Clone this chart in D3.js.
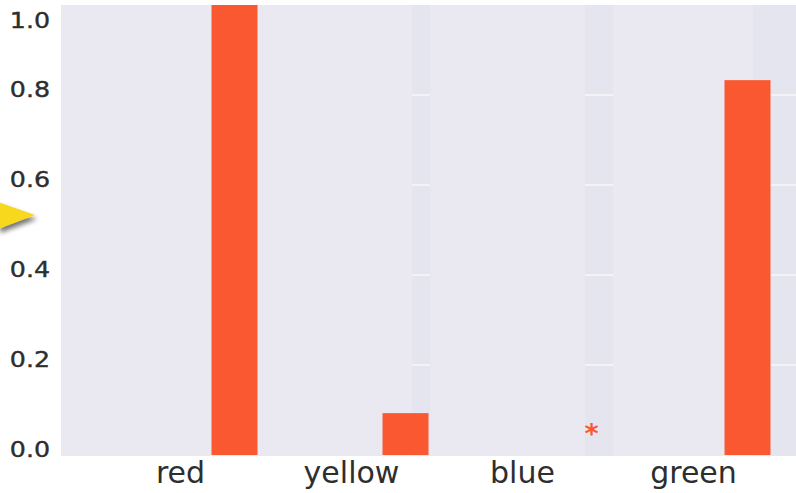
<!DOCTYPE html>
<html>
<head>
<meta charset="utf-8">
<script src="https://cdn.jsdelivr.net/npm/d3@7"></script>
<style>
  html, body { margin: 0; padding: 0; background: #ffffff; }
  svg { display: block; }
</style>
</head>
<body>
<svg id="chart" width="796" height="493"></svg>
<script>
// Categories and their values
const categories = ["red", "yellow", "blue", "green"];
const values = [1.0, 0.093, 0.0, 0.833];
const yTicks = [0.0, 0.2, 0.4, 0.6, 0.8, 1.0];
const markers = ["", "", "*", ""];

const plot = { left: 61, right: 796, top: 5, bottom: 456 };

const svg = d3.select("#chart");

const x = d3.scaleBand().domain(categories).range([95, 779]);
const y = d3.scaleLinear().domain([0, 1]).range([455, 5]);

const barColor = "#f95830";
const textColor = "#2e2e2e";

// Shadow for the pointer
const defs = svg.append("defs");
const f = defs.append("filter").attr("id", "shadow").attr("x", "-50%").attr("y", "-50%").attr("width", "200%").attr("height", "200%");
f.append("feGaussianBlur").attr("in", "SourceAlpha").attr("stdDeviation", 2.5);
f.append("feOffset").attr("dx", 2).attr("dy", 4).attr("result", "b");
f.append("feComponentTransfer").append("feFuncA").attr("type", "linear").attr("slope", 0.55);
const m = f.append("feMerge");
m.append("feMergeNode");
m.append("feMergeNode").attr("in", "SourceGraphic");

// Plot background
svg.append("rect")
  .attr("x", plot.left).attr("y", plot.top)
  .attr("width", plot.right - plot.left).attr("height", plot.bottom - plot.top)
  .attr("fill", "#eae9f2");

// Slightly darker panel strips with their own grid lines
const strips = [[412, 430], [585, 613], [753, 796]];
const stripG = svg.append("g");
strips.forEach(([a, b]) => {
  stripG.append("rect")
    .attr("x", a).attr("y", plot.top)
    .attr("width", b - a).attr("height", plot.bottom - plot.top)
    .attr("fill", "#e5e5ef");
  yTicks.filter(t => t > 0 && t < 1).forEach(t => {
    stripG.append("line")
      .attr("x1", a).attr("x2", b)
      .attr("y1", y(t)).attr("y2", y(t))
      .attr("stroke", "#f2f2f7").attr("stroke-width", 2);
  });
});

// Bars
const barOffset = 31, barWidth = 46;
svg.append("g").selectAll("rect")
  .data(categories)
  .join("rect")
  .attr("x", (d) => x(d) + x.bandwidth() / 2 + barOffset)
  .attr("y", (d, i) => y(values[i]))
  .attr("width", barWidth)
  .attr("height", (d, i) => y(0) - y(values[i]))
  .attr("fill", barColor);

// Significance markers
svg.append("g").selectAll("text")
  .data(categories)
  .join("text")
  .attr("x", (d) => x(d) + x.bandwidth() / 2 + 69)
  .attr("y", y(0) - 12)
  .attr("text-anchor", "middle")
  .attr("font-family", "DejaVu Sans, sans-serif")
  .attr("font-size", 27)
  .attr("font-weight", "bold")
  .attr("fill", barColor)
  .text((d, i) => markers[i]);

// Y axis labels
const yAxis = d3.axisLeft(y).tickValues(yTicks).tickFormat(d3.format(".1f")).tickSize(0).tickPadding(0);
const yg = svg.append("g").attr("transform", `translate(${plot.left},0)`).call(yAxis);
yg.select(".domain").remove();
yg.selectAll(".tick text")
  .attr("x", 0).attr("dy", null)
  .attr("transform", (d) => `translate(-11,${d === 1 ? 22 : 1}) scale(1.15,1)`)
  .attr("font-family", "DejaVu Sans, sans-serif")
  .attr("font-size", 22)
  .attr("fill", textColor)
  .attr("stroke", textColor)
  .attr("stroke-width", 0.4);

// X axis labels
const xAxis = d3.axisBottom(x).tickSize(0).tickPadding(0);
const xg = svg.append("g").attr("transform", `translate(0,${plot.bottom})`).call(xAxis);
xg.select(".domain").remove();
xg.selectAll(".tick text")
  .attr("y", 27).attr("dy", null)
  .attr("font-family", "DejaVu Sans, sans-serif")
  .attr("font-size", 30)
  .attr("fill", textColor);

// Pointer arrow at the left edge
svg.append("path")
  .attr("d", "M-2,202 L35,215 L-2,229 Z")
  .attr("fill", "#f7d81c")
  .attr("filter", "url(#shadow)");
</script>
</body>
</html>
